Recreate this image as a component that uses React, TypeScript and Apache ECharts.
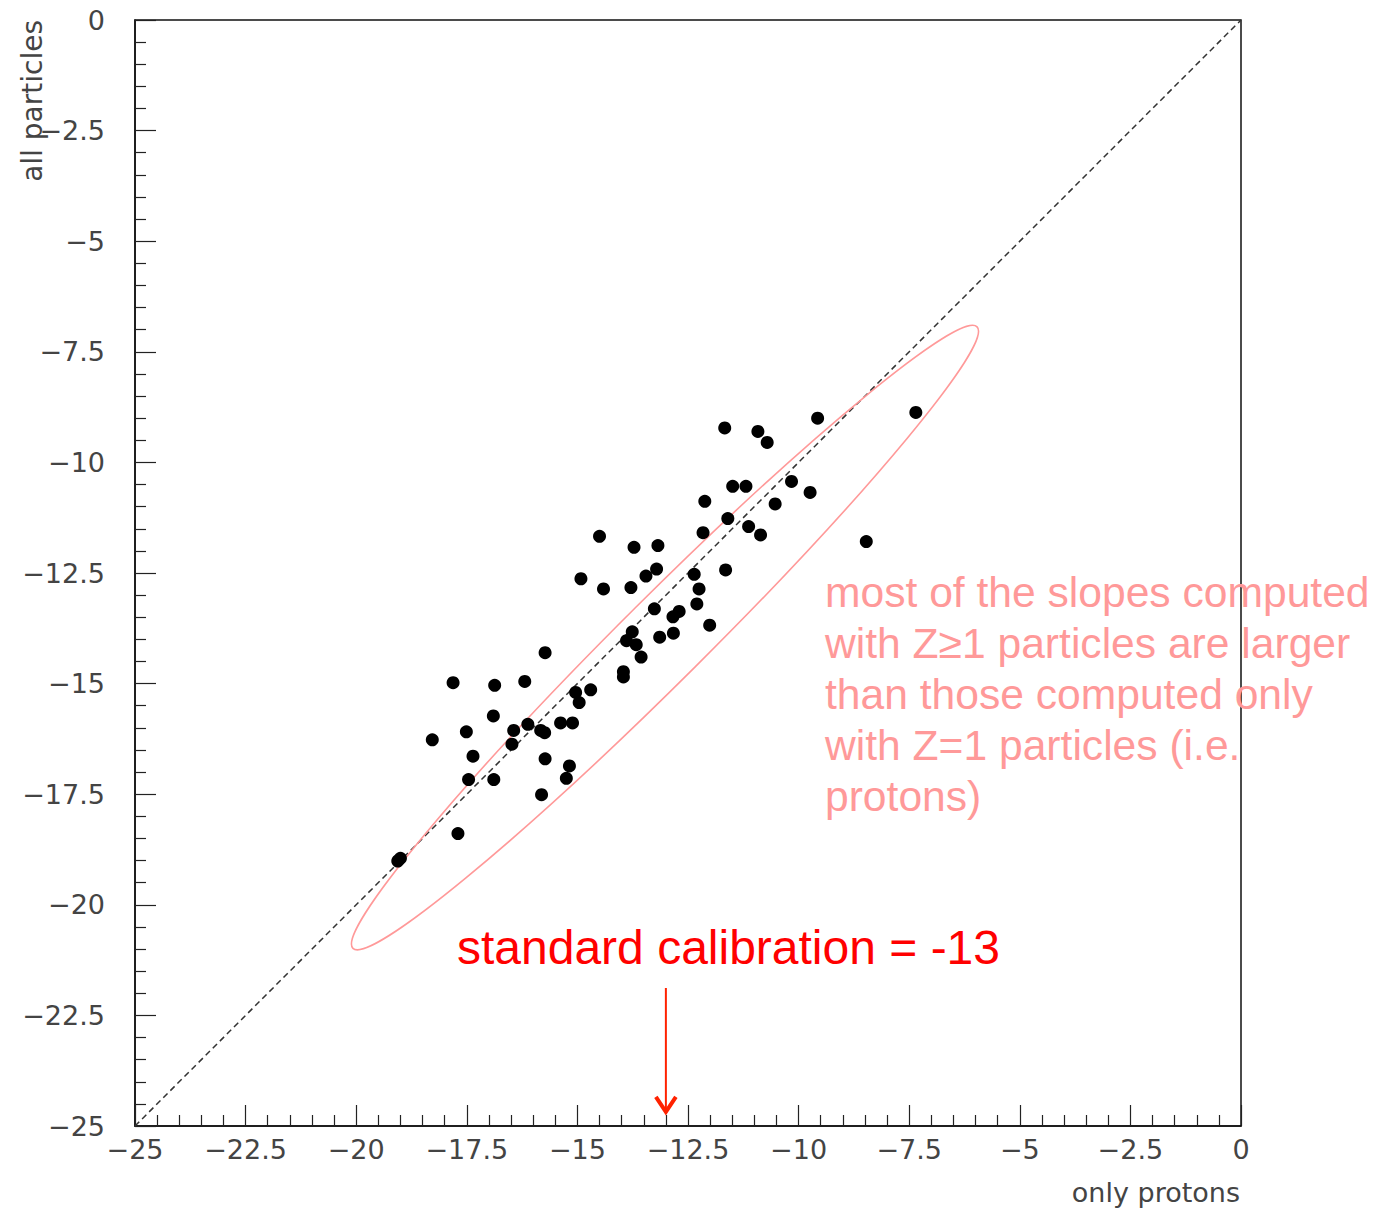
import React, { useEffect, useRef } from "react";
import * as echarts from "echarts";

// x: slope from protons only, y: slope from all particles
const xProtons: number[] = [
  -7.35, -9.57, -11.67, -10.92, -10.71, -11.49, -11.19, -10.16, -9.74, -12.12,
  -10.53, -11.6, -11.13, -10.86, -12.16, -8.47, -14.5, -13.72, -13.18, -14.92,
  -14.41, -13.79, -13.45, -13.21, -12.36, -11.65, -12.25, -13.26, -12.7, -12.84,
  -12.3, -13.14, -12.83, -12.01, -13.76, -13.89, -13.67, -13.56, -13.96, -13.96,
  -15.73, -17.81, -16.87, -16.19, -14.7, -15.04, -14.96, -16.9, -16.12, -16.44,
  -15.38, -15.11, -15.83, -15.74, -17.51, -18.28, -16.48, -17.36, -15.73, -15.18,
  -15.25, -17.46, -16.89, -15.81, -17.7, -19.0, -19.06,
];
const yAll: number[] = [
  -8.87, -9.0, -9.22, -9.3, -9.55, -10.54, -10.54, -10.43, -10.68, -10.88,
  -10.94, -11.27, -11.45, -11.64, -11.59, -11.79, -11.67, -11.92, -11.88, -12.63,
  -12.86, -12.83, -12.57, -12.41, -12.53, -12.43, -12.86, -13.31, -13.37, -13.49,
  -13.2, -13.95, -13.86, -13.68, -13.83, -14.03, -14.12, -14.4, -14.73, -14.85,
  -14.3, -14.98, -15.04, -14.95, -15.14, -15.2, -15.43, -15.73, -15.92, -16.06,
  -15.89, -15.89, -16.06, -16.11, -16.09, -16.27, -16.37, -16.64, -16.7, -16.86,
  -17.14, -17.17, -17.17, -17.51, -18.39, -18.95, -19.01,
];

const diagonal: number[][] = [[-25, -25], [0, 0]];
// ellipse: major-axis end points (x1, y1, x2, y2) and semi-minor size (data units)
const ellipseParams: number[][] = [[-20.07, -20.98, -5.97, -6.94, 0.95]];
// arrow at x = -13, from y top to y bottom
const arrowParams: number[][] = [[-13, -21.88, -24.68]];

const axisTicks = { min: -25, max: 0, interval: 2.5 };
const xTitle = "only protons";
const yTitle = "all particles";
const calibText = "standard calibration = -13";
const noteLines = [
  "most of the slopes computed",
  "with Z\u22651 particles are larger",
  "than those computed only",
  "with Z=1 particles (i.e.",
  "protons)",
];

const fmt = (v: number) => (v === 0 ? "0" : (v < 0 ? "\u2212" : "") + Math.abs(v));

export default function App() {
  const ref = useRef<HTMLDivElement>(null);
  useEffect(() => {
    if (!ref.current) return;
    const chart = echarts.init(ref.current, null, { renderer: "svg" });
    const labelFont = "DejaVu Sans";
    const axisCommon = {
      type: "value" as const,
      min: axisTicks.min,
      max: axisTicks.max,
      interval: axisTicks.interval,
      axisLine: { show: true, onZero: false, lineStyle: { color: "#111", width: 1.5 } },
      axisTick: { show: true, inside: true, length: 21, lineStyle: { color: "#222", width: 1.2 } },
      minorTick: { show: true, splitNumber: 5, length: 11, lineStyle: { color: "#222", width: 1.2 } },
      splitLine: { show: false },
      minorSplitLine: { show: false },
      axisLabel: {
        formatter: fmt,
        color: "#444",
        fontFamily: labelFont,
        fontSize: 27,
        showMinLabel: true,
        showMaxLabel: true,
      },
    };
    const points = xProtons.map((x, i) => [x, yAll[i]]);
    chart.setOption({
      animation: false,
      backgroundColor: "#fff",
      grid: {
        left: 135,
        top: 20,
        width: 1106,
        height: 1106,
        show: true,
        borderColor: "#111",
        borderWidth: 1.5,
        backgroundColor: "transparent",
      },
      xAxis: { ...axisCommon, axisLabel: { ...axisCommon.axisLabel, margin: 10 } },
      yAxis: { ...axisCommon, axisLabel: { ...axisCommon.axisLabel, margin: 30 } },
      graphic: [
        {
          type: "text",
          x: 1240,
          y: 1192,
          style: { text: xTitle, fill: "#444", font: `27px "${labelFont}"`, align: "right", verticalAlign: "middle" },
        },
        {
          type: "text",
          x: 32,
          y: 20,
          rotation: Math.PI / 2,
          style: { text: yTitle, fill: "#444", font: `28px "${labelFont}"`, align: "right", verticalAlign: "middle" },
        },
        {
          type: "text",
          x: 457,
          y: 947,
          style: { text: calibText, fill: "#ff0000", font: `48px "Liberation Sans"`, align: "left", verticalAlign: "middle" },
        },
        {
          type: "text",
          x: 825,
          y: 566,
          style: {
            text: noteLines.join("\n"),
            fill: "#ff9999",
            font: `42.6px "Liberation Sans"`,
            lineHeight: 51,
            align: "left",
            verticalAlign: "top",
          },
        },
      ],
      series: [
        {
          type: "line",
          data: diagonal,
          showSymbol: false,
          lineStyle: { color: "#333", width: 1.5, type: [6, 4] },
          z: 1,
        },
        {
          type: "custom",
          data: ellipseParams,
          clip: false,
          z: 2,
          renderItem: (params: any, api: any) => {
            const p1 = api.coord([api.value(0), api.value(1)]);
            const p2 = api.coord([api.value(2), api.value(3)]);
            const cx = (p1[0] + p2[0]) / 2;
            const cy = (p1[1] + p2[1]) / 2;
            const dx = p2[0] - p1[0];
            const dy = p2[1] - p1[1];
            const rx = Math.sqrt(dx * dx + dy * dy) / 2;
            const ry = api.size([api.value(4), 0])[0];
            const angle = Math.atan2(-dy, dx);
            return {
              type: "ellipse",
              x: cx,
              y: cy,
              rotation: angle,
              shape: { cx: 0, cy: 0, rx, ry },
              style: { fill: "none", stroke: "#ff9999", lineWidth: 1.6 },
            };
          },
        },
        {
          type: "scatter",
          data: points,
          symbol: "circle",
          symbolSize: 13,
          itemStyle: { color: "#000", opacity: 1 },
          z: 3,
        },
        {
          type: "custom",
          data: arrowParams,
          clip: false,
          z: 4,
          renderItem: (params: any, api: any) => {
            const top = api.coord([api.value(0), api.value(1)]);
            const bot = api.coord([api.value(0), api.value(2)]);
            return {
              type: "group",
              children: [
                {
                  type: "line",
                  shape: { x1: top[0], y1: top[1], x2: bot[0], y2: bot[1] - 2 },
                  style: { stroke: "#ff2200", lineWidth: 2 },
                },
                {
                  type: "polyline",
                  shape: { points: [[bot[0] - 10, bot[1] - 15], [bot[0], bot[1]], [bot[0] + 10, bot[1] - 15]] },
                  style: { stroke: "#ff2200", lineWidth: 4, fill: "none", lineJoin: "miter" },
                },
              ],
            };
          },
        },
      ],
    });
    return () => chart.dispose();
  }, []);
  return (
    <div
      ref={ref}
      style={{ position: "fixed", left: 0, top: 0, width: 1376, height: 1209, background: "#fff" }}
    />
  );
}
